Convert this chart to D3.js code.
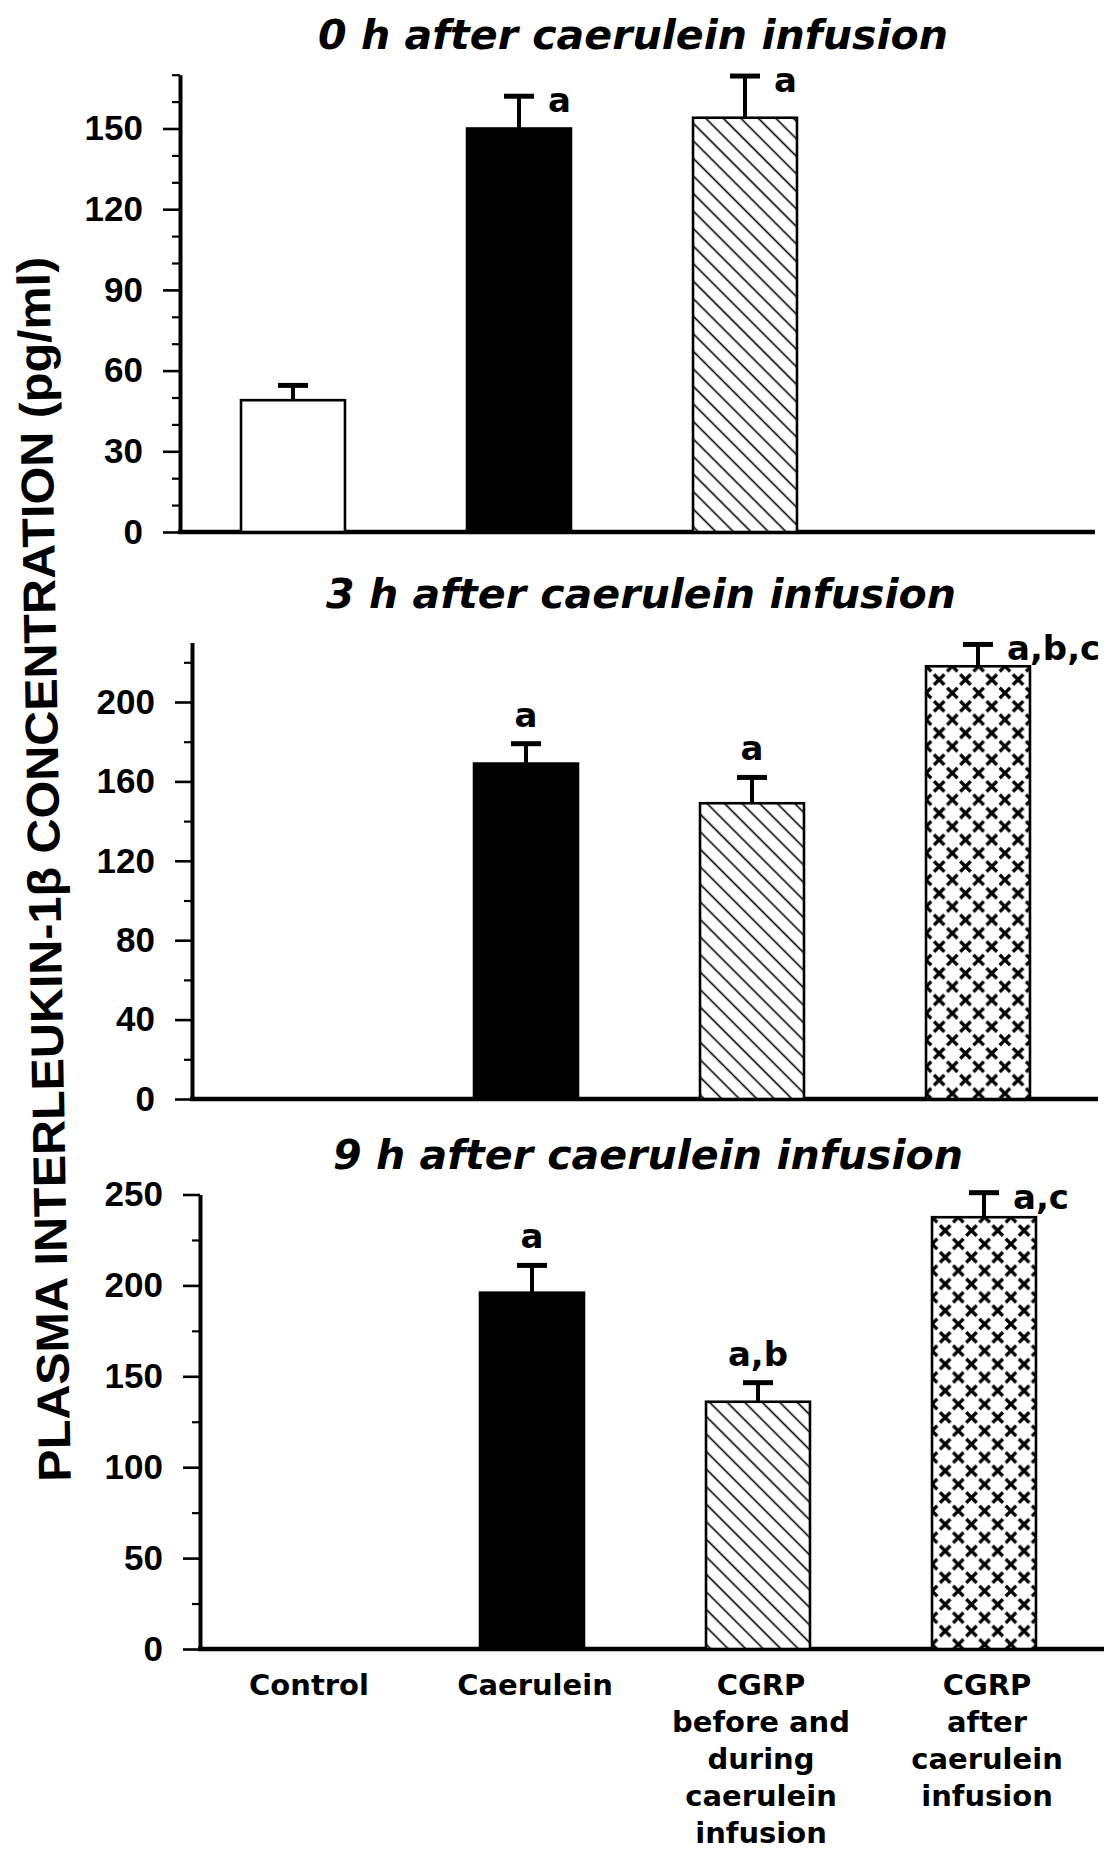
<!DOCTYPE html>
<html>
<head>
<meta charset="utf-8">
<script src="https://cdn.jsdelivr.net/npm/d3@7"></script>
<style>
  html, body { margin: 0; padding: 0; background: #ffffff; }
  svg { display: block; }
</style>
</head>
<body>
<svg id="chart" width="1107" height="1850"></svg>
<script>
// ---------------- DATA ----------------
const categories = [
  "Control",
  "Caerulein",
  "CGRP before and during caerulein infusion",
  "CGRP after caerulein infusion"
];
const categoryLabelLines = [
  ["Control"],
  ["Caerulein"],
  ["CGRP", "before and", "during", "caerulein", "infusion"],
  ["CGRP", "after", "caerulein", "infusion"]
];
const panelTitles = [
  "0 h after caerulein infusion",
  "3 h after caerulein infusion",
  "9 h after caerulein infusion"
];
const yAxisTitle = "PLASMA INTERLEUKIN-1\u03B2 CONCENTRATION (pg/ml)";

// mean values (pg/ml); null = group not shown
const means0h = [49, 150, 154, null];
const sem0h   = [5.5, 12, 15.5, null];
const sig0h   = ["", "a", "a", ""];

const means3h = [null, 169, 149, 218];
const sem3h   = [null, 10, 13, 11];
const sig3h   = ["", "a", "a", "a,b,c"];

const means9h = [null, 196, 136, 237.5];
const sem9h   = [null, 15, 10.5, 13.5];
const sig9h   = ["", "a", "a,b", "a,c"];

const yMax0h = 170, yMax3h = 230, yMax9h = 250;
const ticks0h = [0, 30, 60, 90, 120, 150];
const ticks3h = [0, 40, 80, 120, 160, 200];
const ticks9h = [0, 50, 100, 150, 200, 250];
const minorStep0h = 10, minorStep3h = 20, minorStep9h = 25;

// ---------------- LAYOUT ----------------
const W = 1107, H = 1850;
const svg = d3.select("#chart");
svg.append("rect").attr("width", W).attr("height", H).attr("fill", "#ffffff");
const defs = svg.append("defs");

// diagonal hatch (top-left to bottom-right)
const hatch = defs.append("pattern")
  .attr("id", "hatch")
  .attr("patternUnits", "userSpaceOnUse")
  .attr("width", 12.4).attr("height", 12.4)
  .attr("patternTransform", "rotate(-45)");
hatch.append("rect").attr("width", 12.4).attr("height", 12.4).attr("fill", "#fff");
hatch.append("line").attr("x1", 6.2).attr("y1", -1).attr("x2", 6.2).attr("y2", 13.4)
  .attr("stroke", "#000").attr("stroke-width", 1.6);

function crossPattern(id, x0, y0) {
  const tw = 26.3, th = 26.7;
  const p = defs.append("pattern")
    .attr("id", id)
    .attr("patternUnits", "userSpaceOnUse")
    .attr("x", x0).attr("y", y0)
    .attr("width", tw).attr("height", th);
  p.append("rect").attr("width", tw).attr("height", th).attr("fill", "#fff");
  const pts = [[0, 0], [tw, 0], [0, th], [tw, th], [tw / 2, th / 2]];
  const s = 5.2;
  pts.forEach(([cx, cy]) => {
    p.append("path")
      .attr("d", `M${cx - s},${cy - s}L${cx + s},${cy + s}M${cx + s},${cy - s}L${cx - s},${cy + s}`)
      .attr("stroke", "#000").attr("stroke-width", 3.3).attr("fill", "none");
  });
}

const panels = [
  { title: panelTitles[0], means: means0h, errs: sem0h, sig: sig0h, yMax: yMax0h,
    ticks: ticks0h, minorStep: minorStep0h,
    axisX: 180, y0: 532, pxPerUnit: 403.5 / 150, xRange: [180, 1084], xEnd: 1095,
    titleX: 633, titleY: 49, sigRight: [true, true, true, true] },
  { title: panelTitles[1], means: means3h, errs: sem3h, sig: sig3h, yMax: yMax3h,
    ticks: ticks3h, minorStep: minorStep3h,
    axisX: 192, y0: 1099, pxPerUnit: 1.985, xRange: [187, 1091], xEnd: 1098,
    titleX: 641, titleY: 608, sigRight: [false, false, false, true] },
  { title: panelTitles[2], means: means9h, errs: sem9h, sig: sig9h, yMax: yMax9h,
    ticks: ticks9h, minorStep: minorStep9h,
    axisX: 200, y0: 1649, pxPerUnit: 1.818, xRange: [193, 1097], xEnd: 1104,
    titleX: 648, titleY: 1169, sigRight: [false, false, false, true] }
];

const fills = ["#ffffff", "#000000", "url(#hatch)", null];

let lastX = null;
panels.forEach((P, pi) => {
  const g = svg.append("g");
  const y = d3.scaleLinear().domain([0, P.yMax]).range([P.y0, P.y0 - P.yMax * P.pxPerUnit]);
  const x = d3.scaleBand().domain(categories).range(P.xRange).paddingInner(0.54).paddingOuter(0.27);
  lastX = x;

  // title
  g.append("text")
    .attr("x", P.titleX).attr("y", P.titleY)
    .attr("text-anchor", "middle")
    .attr("font-family", "DejaVu Sans, sans-serif")
    .attr("font-weight", "bold").attr("font-style", "italic")
    .attr("font-size", 40)
    .attr("textLength", 630).attr("lengthAdjust", "spacingAndGlyphs")
    .text(P.title);

  // minor ticks
  const minorVals = d3.range(0, P.yMax + 0.001, P.minorStep).filter(v => !P.ticks.includes(v));
  const minorAxis = g.append("g").attr("transform", `translate(${P.axisX},0)`)
    .call(d3.axisLeft(y).tickValues(minorVals).tickSize(8).tickSizeOuter(0).tickFormat(""));
  minorAxis.select(".domain").remove();
  minorAxis.selectAll(".tick line").attr("stroke", "#000").attr("stroke-width", 2.2);

  // major axis
  const ax = g.append("g").attr("transform", `translate(${P.axisX},0)`)
    .call(d3.axisLeft(y).tickValues(P.ticks).tickSize(17).tickSizeOuter(0).tickPadding(20).tickFormat(d3.format("d")));
  ax.select(".domain").attr("stroke", "#000").attr("stroke-width", 4);
  ax.selectAll(".tick line").attr("stroke", "#000").attr("stroke-width", 2.6);
  ax.selectAll(".tick text")
    .attr("font-family", "Liberation Sans, Arial, sans-serif")
    .attr("font-weight", "bold")
    .attr("font-size", 35)
    .attr("fill", "#000");

  // x baseline
  g.append("line")
    .attr("x1", P.axisX - 2).attr("x2", P.xEnd)
    .attr("y1", y(0)).attr("y2", y(0))
    .attr("stroke", "#000").attr("stroke-width", 4.5);

  const rows = categories.map((c, i) => ({ c, i, m: P.means[i], e: P.errs[i], s: P.sig[i] }))
    .filter(d => d.m !== null);

  // error bars
  rows.forEach(d => {
    const cx = x(d.c) + x.bandwidth() / 2;
    const yt = y(d.m + d.e);
    g.append("line").attr("x1", cx).attr("x2", cx).attr("y1", y(d.m)).attr("y2", yt)
      .attr("stroke", "#000").attr("stroke-width", 4);
    g.append("line").attr("x1", cx - 15).attr("x2", cx + 15).attr("y1", yt).attr("y2", yt)
      .attr("stroke", "#000").attr("stroke-width", 5);
  });

  // bars
  rows.forEach(d => {
    let fill = fills[d.i];
    if (d.i === 3) {
      const id = "cross" + pi;
      crossPattern(id, x(d.c), y(d.m));
      fill = `url(#${id})`;
    }
    g.append("rect")
      .attr("x", x(d.c)).attr("y", y(d.m))
      .attr("width", x.bandwidth()).attr("height", y(0) - y(d.m))
      .attr("fill", fill)
      .attr("stroke", "#000").attr("stroke-width", 2.6);
  });

  // significance labels
  rows.filter(d => d.s).forEach(d => {
    const cx = x(d.c) + x.bandwidth() / 2;
    const yt = y(d.m + d.e);
    const right = P.sigRight[d.i];
    g.append("text")
      .attr("x", right ? cx + 29 : cx)
      .attr("y", right ? yt + 16 : yt - 17)
      .attr("text-anchor", right ? "start" : "middle")
      .attr("font-family", "DejaVu Sans, sans-serif")
      .attr("font-weight", "bold")
      .attr("font-size", 34)
      .text(d.s);
  });
});

// category labels under the last panel
categories.forEach((c, i) => {
  const cx = lastX(c) + lastX.bandwidth() / 2 + 3;
  const t = svg.append("text")
    .attr("text-anchor", "middle")
    .attr("font-family", "DejaVu Sans, sans-serif")
    .attr("font-weight", "bold")
    .attr("font-size", 29);
  categoryLabelLines[i].forEach((line, k) => {
    t.append("tspan").attr("x", cx).attr("y", 1695 + k * 37).text(line);
  });
});

// y axis title
svg.append("text")
  .attr("transform", "translate(60,869) rotate(-91)")
  .attr("text-anchor", "middle")
  .attr("font-family", "Liberation Sans, Arial, sans-serif")
  .attr("font-weight", "bold")
  .attr("font-size", 46)
  .attr("textLength", 1225).attr("lengthAdjust", "spacingAndGlyphs")
  .text(yAxisTitle);
</script>
</body>
</html>
